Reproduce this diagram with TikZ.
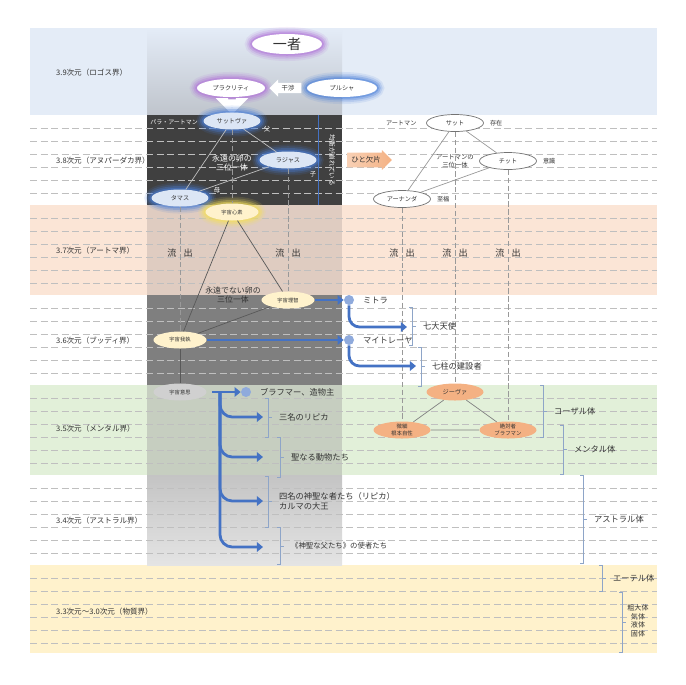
\documentclass[tikz,border=0pt]{standalone}
\usepackage{fontspec}
\setmainfont{Noto Sans CJK JP}
\usetikzlibrary{shapes.geometric,shapes.arrows,arrows.meta,positioning}
\newcommand{\jfs}[1]{\fontsize{#1}{\fpeval{1.22*#1}}\selectfont}
% x, top, bottom, name, text
\newcommand{\bracketmark}[5]{%
  \draw[brkline] (#1-3,#2) -- (#1,#2) -- (#1,#3) -- (#1-3,#3)
    (#1,{(#2+#3)/2}) -- ++(4,0);
  \node[lbl,align=left] (#4) at (#1+5,{(#2+#3)/2}) {#5};}
\definecolor{bandblue}{HTML}{E4ECF7}
\definecolor{bandpeach}{HTML}{FBE5D6}
\definecolor{bandgreen}{HTML}{E2F0D9}
\definecolor{bandyellow}{HTML}{FFF2CC}
\definecolor{coltop}{HTML}{BFC4CC}
\definecolor{coldark}{HTML}{404040}
\definecolor{colpeach}{HTML}{DFCCC1}
\definecolor{colmid}{HTML}{7F7F7F}
\definecolor{colgreen}{HTML}{C6CEC0}
\definecolor{colastA}{HTML}{C4C4C4}
\definecolor{colastB}{HTML}{E4E4E4}
\definecolor{glowpurple}{HTML}{B072D8}
\definecolor{glowblue}{HTML}{4A7FD8}
\definecolor{glowyellow}{HTML}{F5E05A}
\definecolor{gunafill}{HTML}{DCE6F5}
\definecolor{cosmicfill}{HTML}{FFF2CC}
\definecolor{ishifill}{HTML}{D0D0D0}
\definecolor{jivafill}{HTML}{F4B183}
\definecolor{arrblue}{HTML}{4472C4}
\definecolor{dotblue}{HTML}{8FAADC}
\definecolor{brkblue}{HTML}{8EA5C8}

\begin{document}
\begin{tikzpicture}[x=0.02cm,y=-0.02cm,
  every node/.style={font=\jfs{4.6},text=black!80},
  bandlabel/.style={anchor=west,font=\jfs{4.3}},
  lbl/.style={anchor=west,font=\jfs{4.7}},
  ell/.style={ellipse,inner sep=0pt,minimum width=1.14cm,minimum height=0.34cm,font=\jfs{3.5}},
  glow/.style={preaction={draw=#1,line width=8pt,opacity=.12},
               preaction={draw=#1,line width=6pt,opacity=.18},
               preaction={draw=#1,line width=4pt,opacity=.3},
               preaction={draw=#1,line width=2pt,opacity=.45}},
  guna/.style={ell,fill=gunafill,glow=glowblue},
  cosmic/.style={ell,minimum width=1.06cm,fill=cosmicfill,font=\jfs{3}},
  atman/.style={ell,draw=black!55,line width=.4pt,fill=white},
  jiva/.style={ell,fill=jivafill,align=center},
  gridline/.style={black!25,dash pattern=on 4pt off 2pt,line width=.35pt},
  flowline/.style={black!40,dash pattern=on 3pt off 1.5pt,line width=.4pt},
  bluearr/.style={draw=arrblue,line width=1.6pt,-{Triangle[length=3.5pt,width=5.5pt]}},
  dot/.style={circle,fill=dotblue,minimum size=0.2cm,inner sep=0pt},
  brkline/.style={draw=brkblue,line width=.5pt}
]
\useasboundingbox (0,0) rectangle (686,684);

% planes
\fill[bandblue] (30,28) rectangle (657,115);
\fill[bandpeach] (30,205) rectangle (657,295);
\fill[bandgreen] (30,385) rectangle (657,475);
\fill[bandyellow] (30,565) rectangle (657,653);

% the grey column
\shade[top color=bandblue,bottom color=coltop] (147,28) rectangle (342,115);
\fill[coldark] (147,115) rectangle (342,205);
\fill[colpeach] (147,205) rectangle (342,295);
\fill[colmid] (147,295) rectangle (342,385);
\fill[colgreen] (147,385) rectangle (342,475);
\shade[top color=colastA,bottom color=colastB] (147,475) rectangle (342,565);

\foreach \t in {115,205,295,385,475,565}
  \foreach \k [evaluate={\y=\t+13*\k}] in {1,...,6}
    \draw[gridline] (30,\y) -- (657,\y);
\draw[arrblue,line width=.5pt] (318,115) -- (318,205);

\node[bandlabel] (p39) at (50,73) {3.9次元（ロゴス界）};
\node[bandlabel] (p38) at (50,161) {3.8次元（アヌパーダカ界）};
\node[bandlabel] (p37) at (50,251) {3.7次元（アートマ界）};
\node[bandlabel] (p36) at (50,341) {3.6次元（ブッディ界）};
\node[bandlabel] (p35) at (50,429) {3.5次元（メンタル界）};
\node[bandlabel] (p34) at (50,521) {3.4次元（アストラル界）};
\node[bandlabel] (p33) at (50,612) {3.3次元～3.0次元（物質界）};

% top
\node[ell,fill=white,glow=glowpurple,minimum width=1.4cm,minimum height=0.4cm,font=\jfs{8}] (ichi) at (287,44) {一者};
\node[ell,fill=white,glow=glowpurple,minimum width=1.36cm,minimum height=0.36cm] (prakriti) at (231,88) {プラクリティ};
\node[ell,fill=white,glow=glowblue,minimum width=1.4cm,minimum height=0.36cm] (purusha) at (342,88) {プルシャ};
\node[single arrow,shape border rotate=180,fill=white,minimum height=0.64cm,minimum width=0.28cm,
      inner sep=1pt,single arrow head extend=2pt,font=\jfs{3.6}] (kansho) at (288,88) {干渉};
\node[single arrow,shape border rotate=270,fill=white,minimum height=0.3cm,minimum width=0.26cm,
      inner sep=2pt] (sita) at (232,105) {};

% eternal egg
\node[guna] (sattva) at (232,121) {サットヴァ};
\node[guna] (rajas) at (288,160) {ラジャス};
\node[guna] (tamas) at (180,198) {タマス};
\draw[white!75!black,line width=.4pt] (sattva) -- (rajas) -- (tamas) -- (sattva);
\node[anchor=east,text=white,font=\jfs{3.4}] (para) at (204,122) {パラ・アートマン};
\node[text=white,font=\jfs{3.6}] (chichi) at (267,129) {父};
\node[text=white,font=\jfs{3.6}] (ko) at (313,174) {子};
\node[text=white,font=\jfs{3.6}] (haha) at (217,190) {母};
\node[align=center,text=white,font=\jfs{4.5}] (eggA) at (232,163) {永遠の卵の\\三位一体};
\node[rotate=-90,text=white,font=\jfs{3.7}] (kinko) at (332,160) {均衡が崩れている};

% cosmic
\node[cosmic,glow=glowyellow] (shinso) at (232,212) {宇宙心素};
\node[cosmic] (richi) at (288,300) {宇宙理智};
\node[cosmic] (gashu) at (180,340) {宇宙我執};
\node[cosmic,fill=ishifill] (ishi) at (180,392) {宇宙意思};
\draw[black!65,line width=.4pt] (shinso) -- (richi) -- (gashu) -- (shinso);
\draw[black!65,line width=.4pt] (gashu) -- (ishi);
\node[align=center,font=\jfs{4.5}] (eggB) at (233,295) {永遠でない卵の\\三位一体};

% atman
\node[atman] (sat) at (455,123) {サット};
\node[atman] (chit) at (508,161) {チット};
\node[atman] (ananda) at (402,199) {アーナンダ};
\draw[black!40,line width=.4pt] (sat) -- (chit) -- (ananda) -- (sat);
\node[font=\jfs{3.5},left=2pt of sat] (atm) {アートマン};
\node[font=\jfs{3.5},right=0pt of sat] (sonzai) {存在};
\node[font=\jfs{3.5},right=0pt of chit] (ishiki) {意識};
\node[font=\jfs{3.5},right=0pt of ananda] (shifuku) {至福};
\node[align=center,font=\jfs{3.6}] (eggC) at (455,161) {アートマンの\\三位一体};
\node[single arrow,left color=jivafill!60,right color=jivafill,minimum height=0.76cm,minimum width=0.32cm,
      inner sep=2pt,single arrow head extend=1.5pt,font=\jfs{4.2}] (hito) at (366,160) {ひと欠片};

% jiva
\node[jiva] (jiva) at (455,392) {ジーヴァ};
\node[jiva,font=\jfs{3.1}] (bisai) at (402,430) {微細\\根本自性};
\node[jiva,font=\jfs{3.1}] (zettai) at (508,430) {絶対者\\ブラフマン};
\draw[black!50,line width=.4pt] (jiva) -- (bisai) -- (zettai) -- (jiva);

% emanation
\draw[flowline] (sattva) -- (shinso);
\draw[flowline] (rajas) -- (richi);
\draw[flowline] (tamas) -- (gashu);
\draw[flowline] (ananda) -- (bisai);
\draw[flowline] (sat) -- (jiva);
\draw[flowline] (chit) -- (zettai);
\foreach \x/\n in {180/ryuA,288/ryuB,402/ryuC,455/ryuD,508/ryuE}
  \node[font=\jfs{5.2}] (\n) at (\x,253) {流\hspace{4pt}出};

% blue arrows
\node[dot] (mitraD) at (349,300) {};
\node[lbl,right=1.5pt of mitraD] (mitra) {ミトラ};
\draw[bluearr] (richi) -- (mitraD);
\node[dot] (maitD) at (349,340) {};
\node[lbl,right=1.5pt of maitD] (mait) {マイトレーヤ};
\draw[bluearr] (gashu) -- (maitD);
\coordinate (seven) at (407,327);
\coordinate (pillar) at (416,366);
\draw[bluearr,rounded corners=6pt] (mitraD) |- (seven);
\draw[bluearr,rounded corners=6pt] (maitD) |- (pillar);
\bracketmark{412}{307}{345}{angels}{七大天使}
\bracketmark{421}{347}{386}{builders}{七柱の建設者}

\node[dot] (brahD) at (246,392) {};
\node[lbl,right=1.5pt of brahD] (brahma) {ブラフマー、造物主};
\draw[bluearr,shorten <=3pt] (ishi) -- (brahD);
\coordinate (trunk) at (220,392);
\foreach \y/\n in {417/bA,457/bB,501/bC,547/bD}{
  \coordinate (\n) at (263,\y);
  \draw[bluearr,rounded corners=7pt] (trunk) |- (\n);
}
\bracketmark{268}{398}{437}{lipika}{三名のリピカ}
\bracketmark{280}{437}{477}{doubutsu}{聖なる動物たち}
\bracketmark{268}{476}{527}{yonmei}{四名の神聖な者たち（リピカ）\\カルマの大王}
\draw[brkline] (277,527) -- (280,527) -- (280,564) -- (277,564) (280,546) -- ++(4,0);
\node[lbl,font=\jfs{4.2}] (shisha) at (285,546) {《神聖な父たち》の使者たち};

% bodies
\foreach \x/\a/\b/\n/\t in {543/385/437/causal/コーザル体,563/425/474/mental/メンタル体,
    583/475/563/astral/アストラル体,602/565/591/ether/エーテル体}
  {\bracketmark{\x}{\a}{\b}{\n}{\t}}
\draw[brkline] (619,592) -- (622,592) -- (622,652) -- (619,652) (622,622) -- ++(4,0);
\node[align=center,font=\jfs{4}] (sodai) at (638,621) {粗大体\\気体\\液体\\固体};
\end{tikzpicture}
\end{document}
